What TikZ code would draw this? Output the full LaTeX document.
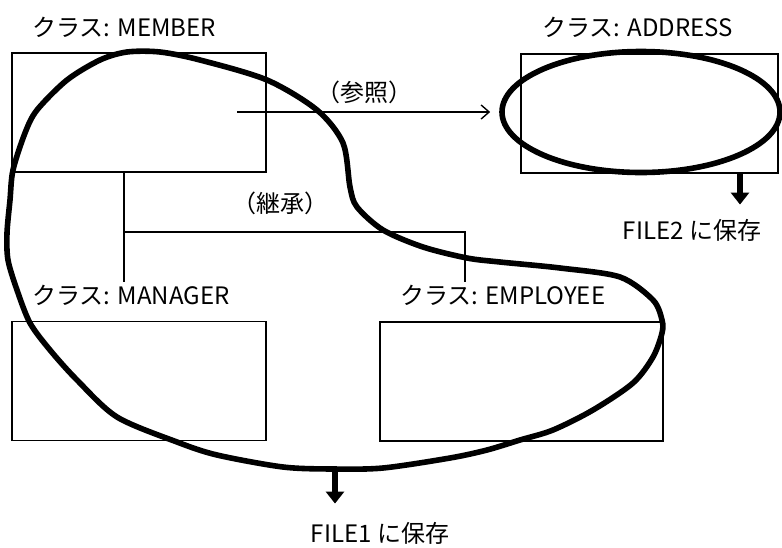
\documentclass[tikz,border=0pt]{standalone}
\usepackage{fontspec}
\setmainfont{Noto Sans CJK JP}
\usetikzlibrary{arrows.meta,shapes.geometric}
\tikzset{
  clsbox/.style={draw, line width=0.7pt, inner sep=0pt, minimum height=59.5pt},
  lbl/.style={font=\fontsize{12pt}{14pt}\selectfont, inner sep=1pt},
  link/.style={line width=0.7pt},
  refarrow/.style={link, -{Straight Barb[length=4pt,width=7pt]}},
  savearrow/.style={line width=2.8pt, -{Triangle[width=9pt,length=6pt]}},
  ring/.style={draw, line width=2.8pt, line join=round},
}

\begin{document}
\begin{tikzpicture}[x=0.5pt, y=-0.5pt]
\useasboundingbox (0,0) rectangle (782,547);
\node[clsbox, minimum width=127pt] (member) at (139,112.5) {};
\node[clsbox, minimum width=128.5pt] (address) at (649.5,113.5) {};
\node[clsbox, minimum width=127pt] (manager) at (139,381) {};
\node[clsbox, minimum width=141.5pt] (employee) at (521.5,381.5) {};
\node[lbl, anchor=west] (memberlbl) at (30,27) {クラス: MEMBER};
\node[lbl, anchor=west] (addresslbl) at (540,27) {クラス: ADDRESS};
\node[lbl, anchor=west] (managerlbl) at (30,295) {クラス: MANAGER};
\node[lbl, anchor=west] (employeelbl) at (398,295) {クラス: EMPLOYEE};
\node[lbl] (refer) at (364,92) {（参照）};
\node[lbl] (inherit) at (280,203) {（継承）};
\node[lbl] (file2) at (692,230) {FILE2 に保存};
\node[lbl] (file1) at (380,533) {FILE1 に保存};
\coordinate (split) at (124,232);
\coordinate (turn) at (465,232);
\coordinate (reffrom) at (237,112);
\coordinate (f2x) at (740,0);
\coordinate (ringbottom) at (335,468);
\draw[link] (member.south -| split) -- (managerlbl.north -| split);
\draw[link] (split) -- (turn) -- (employeelbl.north -| turn);
\node[ring, ellipse, inner sep=0pt, minimum width=139pt, minimum height=60.5pt] (addrring) at (641,112) {};
\draw[refarrow] (reffrom) -- ([xshift=-4.5pt]addrring.west);
\draw[ring] plot[smooth cycle] coordinates {(127,52) (160,52) (200,60) (267,80) (317,110) (343,143) (350,187) (357,207) (383,230) (423,247) (467,258) (500,262) (560,268) (620,277) (653,300) (662,320) (662,333) (653,357) (633,383) (593,410) (553,430) (520,440) (487,450) (450,458) (383,468) (333,469) (283,467) (217,455) (177,442) (117,417) (77,380) (50,350) (30,323) (17,290) (8,260) (7,233) (10,200) (13,170) (25,133) (37,110) (67,80) (100,60)};
\draw[savearrow] (address.south -| f2x) -- ([yshift=6pt]file2.north -| f2x);
\draw[savearrow] (ringbottom) -- ([yshift=8pt]file1.north -| ringbottom);
\end{tikzpicture}
\end{document}
